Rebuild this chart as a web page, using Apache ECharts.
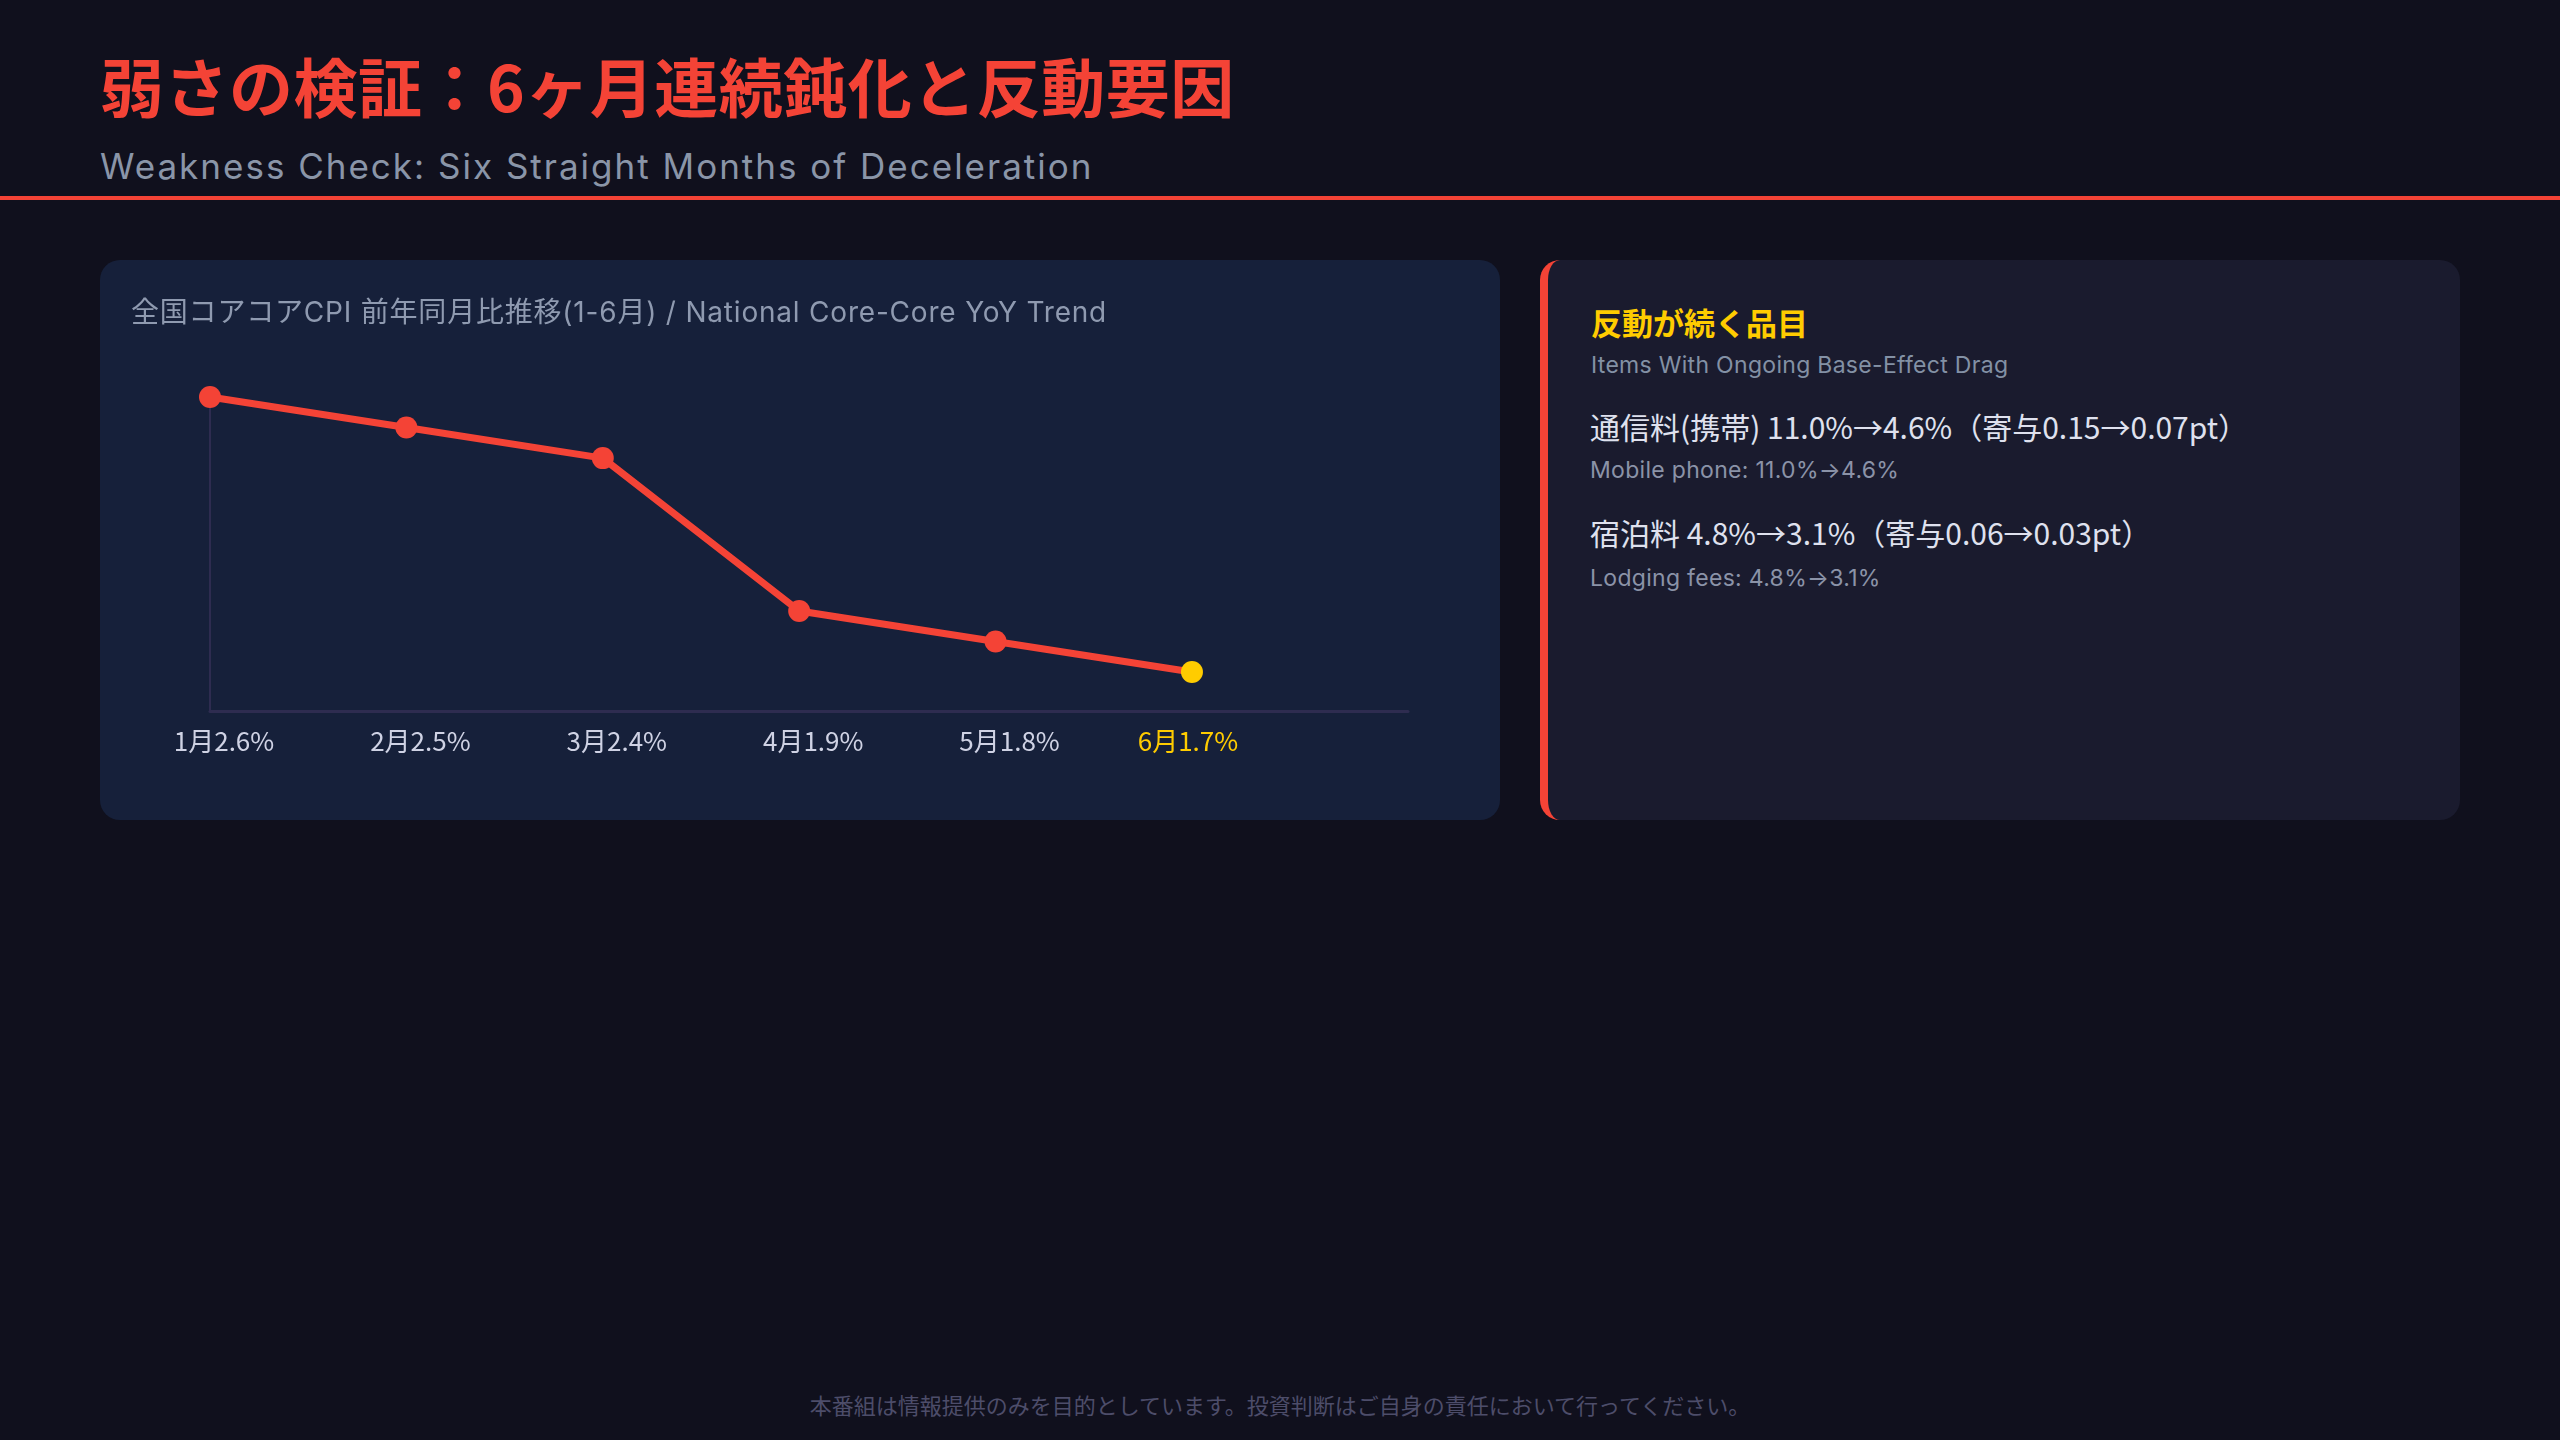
<!DOCTYPE html>
<html lang="ja">
<head>
<meta charset="utf-8">
<script src="https://cdn.jsdelivr.net/npm/echarts@6/dist/echarts.min.js"></script>
<style>
  html, body { margin: 0; padding: 0; }
  body { width: 2560px; height: 1440px; background: #10101d; position: relative; overflow: hidden;
         font-family: "Noto Sans CJK JP", "Noto Sans", sans-serif; }
  .abs { position: absolute; white-space: nowrap; }
  .lat { font-family: "Inter", "Noto Sans CJK JP", sans-serif; }
  #title { left: 100px; top: 52px; font-size: 64px; line-height: 64px; font-weight: 700; color: #f44336; letter-spacing: 0.5px; }
  #subtitle { left: 100px; top: 146px; font-size: 35px; line-height: 40px; color: #8a95a8; letter-spacing: 2px; }
  #rule { left: 0; top: 196px; width: 2560px; height: 4px; background: #f44336; }
  #leftPanel { left: 100px; top: 260px; width: 1400px; height: 560px; background: #16203a; border-radius: 20px; }
  #chartTitle { left: 131px; top: 296px; font-size: 28px; line-height: 32px; color: #8f9ab0; letter-spacing: 0.8px; }
  #chart { left: 100px; top: 260px; width: 1400px; height: 560px; }
  #rightPanel { left: 1540px; top: 260px; width: 912px; height: 560px; background: #1a1b2e;
                border-left: 8px solid #f44336; border-radius: 20px; }
  #rpHead { left: 1591px; top: 304px; font-size: 31px; line-height: 36px; font-weight: 700; color: #ffcc00; }
  #rpSub { left: 1591px; top: 351px; font-size: 23px; line-height: 28px; color: #8391a5; letter-spacing: 0.3px; }
  .item { left: 1590px; font-size: 30px; line-height: 34px; color: #dfe1ee; }
  .itemEn { left: 1590px; font-size: 23px; line-height: 28px; color: #8b93a8; letter-spacing: 0.3px; }
  #footer { left: 0; width: 2560px; top: 1391px; text-align: center; font-size: 22px; line-height: 26px; color: #4d4d6a; }
</style>
</head>
<body>
<div class="abs" id="title">弱さの検証：6ヶ月連続鈍化と反動要因</div>
<div class="abs lat" id="subtitle">Weakness Check: Six Straight Months of Deceleration</div>
<div class="abs" id="rule"></div>

<div class="abs" id="leftPanel"></div>
<div class="abs" id="chart"></div>
<div class="abs lat" id="chartTitle">全国コアコアCPI 前年同月比推移(1-6月) / National Core-Core YoY Trend</div>

<div class="abs" id="rightPanel"></div>
<div class="abs" id="rpHead">反動が続く品目</div>
<div class="abs lat" id="rpSub">Items With Ongoing Base-Effect Drag</div>
<div class="abs item" style="top:409px">通信料(携帯) 11.0%→4.6%（寄与0.15→0.07pt）</div>
<div class="abs itemEn lat" style="top:456px">Mobile phone: 11.0%→4.6%</div>
<div class="abs item" style="top:515px">宿泊料 4.8%→3.1%（寄与0.06→0.03pt）</div>
<div class="abs itemEn lat" style="top:564px">Lodging fees: 4.8%→3.1%</div>

<div class="abs" id="footer">本番組は情報提供のみを目的としています。投資判断はご自身の責任において行ってください。</div>

<script>
// ---- data ----
const months = ['1月', '2月', '3月', '4月', '5月', '6月'];
const coreCoreYoY = [2.6, 2.5, 2.4, 1.9, 1.8, 1.7];
const tickLabels = ['1月2.6%', '2月2.5%', '3月2.4%', '4月1.9%', '5月1.8%', '6月1.7%'];

const RED = '#f44336', YELLOW = '#ffcc00';
const lastIdx = coreCoreYoY.length - 1;
const seriesData = coreCoreYoY.map((v, i) => ({
  value: [i, v],
  itemStyle: { color: i === lastIdx ? YELLOW : RED }
}));

const chart = echarts.init(document.getElementById('chart'), null, { renderer: 'canvas' });
chart.setOption({
  animation: false,
  grid: { left: 110, right: 92, top: 137, bottom: 109, containLabel: false },
  xAxis: {
    type: 'value', min: 0, max: 6.1, interval: 1,
    splitLine: { show: false },
    axisTick: { show: false },
    axisLine: { show: true, lineStyle: { color: '#2e2c50', width: 3 } },
    axisLabel: {
      margin: 15,
      showMaxLabel: false,
      formatter: function (v) {
        const i = Math.round(v);
        if (Math.abs(v - i) > 1e-6 || i < 0 || i >= tickLabels.length) return '';
        return (i === lastIdx ? '{h|' : '{n|') + tickLabels[i] + '}';
      },
      rich: {
        n: { color: '#cfd2e4', fontSize: 26, lineHeight: 30, padding: [0, 0, 0, 28],
             fontFamily: '"Noto Sans CJK JP", sans-serif' },
        h: { color: YELLOW, fontSize: 26, lineHeight: 30, padding: [0, 8, 0, 0],
             fontFamily: '"Noto Sans CJK JP", sans-serif' }
      }
    }
  },
  yAxis: {
    type: 'value', min: 1.5725, max: 2.6,
    splitLine: { show: false },
    axisTick: { show: false },
    axisLabel: { show: false },
    axisLine: { show: true, lineStyle: { color: '#2e2c50', width: 2 } }
  },
  series: [{
    type: 'line',
    data: seriesData,
    symbol: 'circle',
    symbolSize: 22,
    lineStyle: { color: RED, width: 7 },
    itemStyle: { color: RED },
    z: 5
  }]
});
</script>
</body>
</html>
